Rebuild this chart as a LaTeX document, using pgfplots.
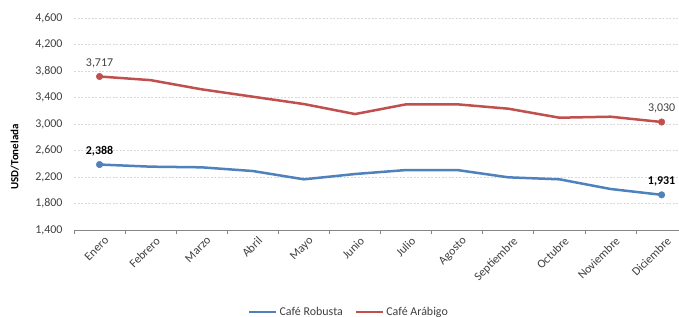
\documentclass[border=0pt]{standalone}
\usepackage{fontspec}
\setmainfont{Carlito}
\usepackage{pgfplots}
\pgfplotsset{compat=1.18}
\definecolor{robusta}{RGB}{79,129,189}
\definecolor{arabigo}{RGB}{192,80,77}
\definecolor{gridc}{RGB}{217,217,217}
\definecolor{axisc}{RGB}{134,134,134}
\definecolor{txt}{RGB}{64,64,64}
\begin{document}
\begin{tikzpicture}
\begin{axis}[
  scale only axis,
  width=605bp, height=212bp,
  at={(74bp,87bp)}, anchor=south west,
  xmin=-0.5, xmax=11.34,
  ymin=1400, ymax=4600,
  ytick={1400,1800,2200,2600,3000,3400,3800,4200,4600},
  xtick={0,...,11},
  xticklabels={Enero,Febrero,Marzo,Abril,Mayo,Junio,Julio,Agosto,Septiembre,Octubre,Noviembre,Diciembre},
  minor xtick={-0.5,0.5,...,11.5},
  axis x line=bottom, axis y line=left,
  x axis line style={-, draw=axisc, line width=1bp},
  y axis line style={draw=none},
  major tick length=0pt,
  minor tick length=4bp,
  tick align=outside,
  minor x tick style={draw=axisc, line width=0.8bp},
  ymajorgrids,
  grid style={gridc, dash pattern=on 2bp off 1.5bp, line width=0.8bp},
  /pgf/number format/.cd, 1000 sep={,}, assume math mode=true,
  /pgfplots/.cd,
  ticklabel style={font=\fontsize{12}{14}\selectfont, text=txt},
  y tick label style={anchor=east, xshift=-8bp},
  x tick label style={rotate=45, anchor=north east, inner sep=1bp, xshift=0bp, yshift=-6bp},
  ylabel={\textbf{USD/Tonelada}},
  ylabel style={font=\fontsize{11}{13}\selectfont, at={(axis description cs:-0.098,0.345)}, anchor=center},
  legend style={at={(axis description cs:0.4545,-0.387)}, anchor=center, draw=none, fill=none,
    legend columns=2, font=\fontsize{12}{14}\selectfont, text=txt,
    /tikz/every even column/.append style={column sep=10bp}},
  legend image code/.code={\draw[#1, line width=2.5bp] (0bp,0bp) -- (27bp,0bp);},
  legend cell align=left,
]
\addplot[robusta, line width=2.5bp] coordinates {
(0,2388) (1,2356) (2,2346) (3,2290) (4,2165) (5,2245) (6,2305) (7,2305) (8,2195) (9,2165) (10,2019) (11,1931)};
\addlegendentry{Café Robusta}
\addplot[arabigo, line width=2.5bp] coordinates {
(0,3717) (1,3662) (2,3523) (3,3412) (4,3301) (5,3150) (6,3297) (7,3297) (8,3231) (9,3095) (10,3110) (11,3030)};
\addlegendentry{Café Arábigo}
\addplot[forget plot, only marks, mark=*, mark size=3.3bp, robusta,
  nodes near coords, nodes near coords style={font=\fontsize{12}{14}\selectfont\bfseries, text=black, anchor=south, yshift=5bp}]
  coordinates {(0,2388) (11,1931)};
\addplot[forget plot, only marks, mark=*, mark size=3.3bp, arabigo,
  nodes near coords, nodes near coords style={font=\fontsize{12}{14}\selectfont, text=txt, anchor=south, yshift=5bp}]
  coordinates {(0,3717) (11,3030)};
\end{axis}
\pgfresetboundingbox
\path (0,0) rectangle (679bp,317bp);
\end{tikzpicture}
\end{document}
